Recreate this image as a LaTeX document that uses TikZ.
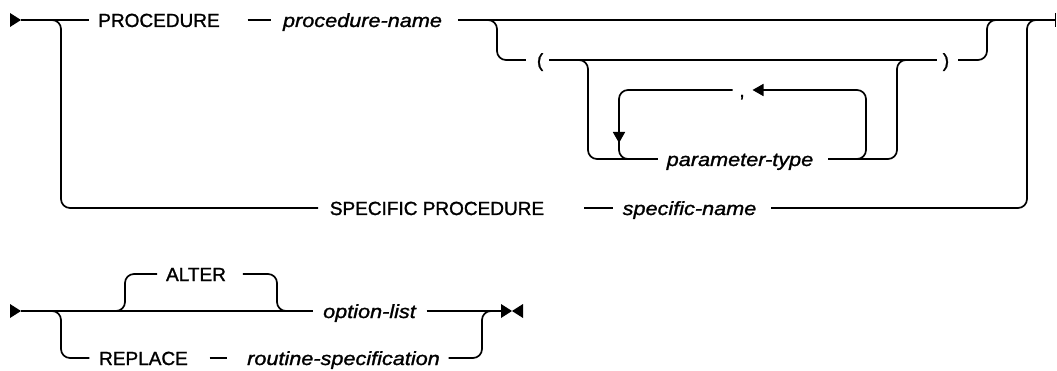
\documentclass[tikz,border=0pt]{standalone}
\usepackage{fontspec}
\setmainfont[FakeBold=1.3]{Liberation Sans}
\newfontfamily\varfont[FakeStretch=1.14,FakeBold=1.3]{Liberation Sans}
\usetikzlibrary{arrows.meta}
\begin{document}
\begin{tikzpicture}[x=1pt,y=-1pt,line width=1.7pt,
  kw/.style={font=\fontsize{19}{19}\selectfont,inner sep=0pt,anchor=base,text height=14pt,text depth=0pt},
  var/.style={font=\varfont\itshape\fontsize{19}{19}\selectfont,inner sep=0pt,anchor=base,text height=14pt,text depth=0pt},
  rail/.style={rounded corners=9pt},
  tip/.style={-{Triangle[length=11pt,width=12pt]}}]
\useasboundingbox (0,0) rectangle (1057,371);
% ---------- row 1 ----------
\node[kw]  (proc)  at (159,27)   {PROCEDURE};
\node[var] (pname) at (362.5,27) {procedure-name};
\node[kw]  (lpar)  at (540,67)   {(};
\node[kw]  (rpar)  at (946,67)   {)};
\node[kw]  (comma) at (742,97)   {,};
\node[var] (ptype) at (740,166)  {parameter-type};
\node[kw]  (spec)  at (437,215)  {SPECIFIC PROCEDURE};
\node[var] (sname) at (689.5,215){specific-name};
\coordinate (a1) at (10,13);
\coordinate (s1) at (21,20);
\coordinate (a2) at (10,27);
\coordinate (e1) at (1056,20);
\coordinate (t1) at (1055.5,13);
\coordinate (t2) at (1055.5,27);
\coordinate (b1) at (43,20);
\coordinate (b1v) at (61,208);
\coordinate (g1) at (479,20);
\coordinate (g1v) at (497,60);
\coordinate (g2v) at (987,20);
\coordinate (g2) at (1004,20);
\coordinate (h1) at (571,60);
\coordinate (h1v) at (588,159);
\coordinate (h2v) at (897,60);
\coordinate (h2) at (914,60);
\coordinate (l1) at (619,143);
\coordinate (l1b) at (619,138);
\coordinate (l1e) at (640,159);
\coordinate (l2) at (849,159);
\coordinate (l2v) at (866,90);
\coordinate (k2v) at (1027,20);
\coordinate (k2) at (1045,20);
\fill (a1) -- (s1) -- (a2) -- cycle;
\draw (s1) -- ([xshift=-8pt]proc.west);
\draw ([xshift=27pt]proc.east) -- ([xshift=-11pt]pname.west);
\draw ([xshift=15pt]pname.east) -- (e1);
\draw[line width=1.5pt] (t1) -- (t2);
\draw[rail] (b1) -| (b1v) -- ([xshift=-11pt]spec.west);
\draw ([xshift=39pt]spec.east) -- ([xshift=-9pt]sname.west);
\draw[rail] ([xshift=14pt]sname.east) -| (k2v) -- (k2);
% optional parameter list
\draw[rail] (g1) -| (g1v) -- ([xshift=-10pt]lpar.west);
\draw ([xshift=5pt]lpar.east) -- ([xshift=-5pt]rpar.west);
\draw[rail] ([xshift=8pt]rpar.east) -| (g2v) -- (g2);
\draw[rail] (h1) -| (h1v) -- ([xshift=-8pt]ptype.west);
\draw[rail] ([xshift=14pt]ptype.east) -| (h2v) -- (h2);
% repetition loop
\draw[rail,tip] ([xshift=-6pt]comma.west) -| (l1);
\draw[rail] (l1b) |- (l1e);
\draw[rail,tip] (l2) -| (l2v) -- ([xshift=7pt]comma.east);
% ---------- row 2 ----------
\node[kw]  (alter) at (196,281)   {ALTER};
\node[var] (optl)  at (369.5,318) {option-list};
\node[kw]  (repl)  at (143.5,365) {REPLACE};
\node[var] (rspec) at (343.5,365) {routine-specification};
\coordinate (c1) at (10,304);
\coordinate (s2) at (21,311);
\coordinate (c2) at (10,318);
\coordinate (bt) at (512,311);
\coordinate (bt1) at (501,304);
\coordinate (bt2) at (501,318);
\coordinate (bt3) at (523,304);
\coordinate (bt4) at (523,318);
\coordinate (al1) at (107,311);
\coordinate (al1v) at (125,274);
\coordinate (al2v) at (277,311);
\coordinate (al2) at (295,311);
\coordinate (r1) at (43,311);
\coordinate (r1v) at (61,358);
\coordinate (r2v) at (482,311);
\coordinate (r2) at (500,311);
\fill (c1) -- (s2) -- (c2) -- cycle;
\draw (s2) -- ([xshift=-9pt]optl.west);
\draw ([xshift=10pt]optl.east) -- (bt1 |- bt);
\fill (bt1) -- (bt) -- (bt2) -- cycle;
\fill (bt3) -- (bt) -- (bt4) -- cycle;
\draw[rail] (al1) -| (al1v) -- ([xshift=-8pt]alter.west);
\draw[rail] ([xshift=16pt]alter.east) -| (al2v) -- (al2);
\draw[rail] (r1) -| (r1v) -- ([xshift=-9pt]repl.west);
\draw ([xshift=21pt]repl.east) -- ([xshift=-19pt]rspec.west);
\draw[rail] ([xshift=8pt]rspec.east) -| (r2v) -- (r2);
\end{tikzpicture}
\end{document}
